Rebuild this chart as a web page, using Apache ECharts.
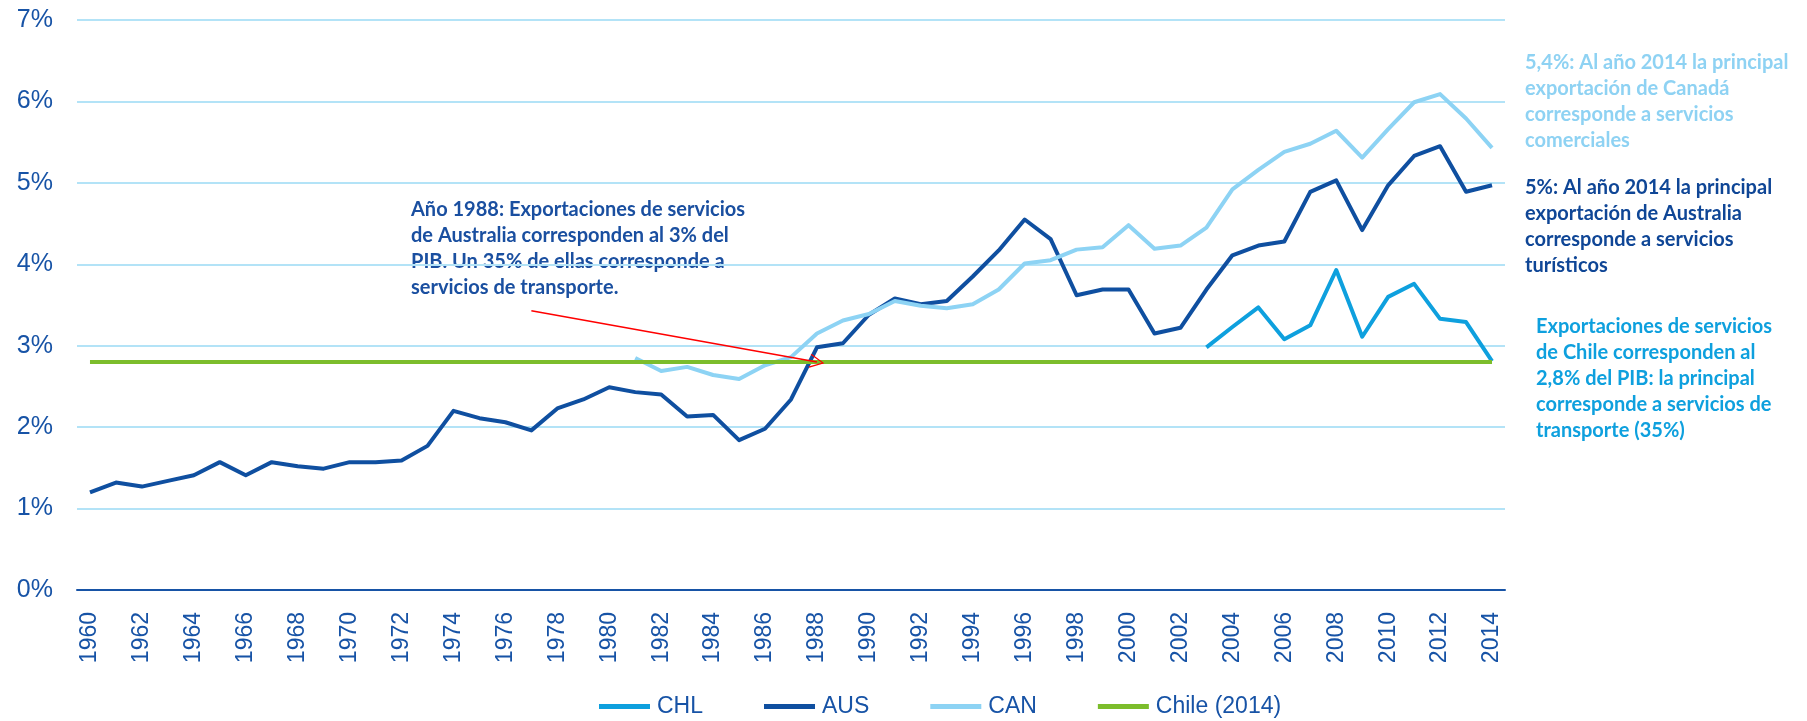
<!DOCTYPE html>
<html>
<head>
<meta charset="utf-8">
<title>Exportaciones de servicios (% del PIB)</title>
<script src="https://cdn.jsdelivr.net/npm/echarts@6/dist/echarts.min.js"></script>
<style>
  html, body { margin: 0; padding: 0; background: #fff; }
  #chart { width: 1807px; height: 721px; }
</style>
</head>
<body>
<div id="chart"></div>
<script>
// años
const years = []
for (let y = 1960; y <= 2014; y++) years.push(String(y))

// Chile, desde 2003
const chl = [
  null, null, null, null, null, null, null, null, null, null,
  null, null, null, null, null, null, null, null, null, null,
  null, null, null, null, null, null, null, null, null, null,
  null, null, null, null, null, null, null, null, null, null,
  null, null, null, 2.98, 3.23, 3.47, 3.08, 3.25, 3.93, 3.11,
  3.60, 3.76, 3.33, 3.29, 2.81
]
// Australia
const aus = [
  1.20, 1.32, 1.27, 1.34, 1.41, 1.57, 1.41, 1.57, 1.52, 1.49,
  1.57, 1.57, 1.59, 1.77, 2.20, 2.11, 2.06, 1.96, 2.23, 2.34,
  2.49, 2.43, 2.40, 2.13, 2.15, 1.84, 1.98, 2.34, 2.98, 3.03,
  3.38, 3.58, 3.51, 3.55, 3.85, 4.17, 4.55, 4.31, 3.62, 3.69,
  3.69, 3.15, 3.22, 3.69, 4.11, 4.23, 4.28, 4.89, 5.03, 4.42,
  4.97, 5.33, 5.45, 4.89, 4.97
]
// Canadá, desde 1981
const can = [
  null, null, null, null, null, null, null, null, null, null,
  null, null, null, null, null, null, null, null, null, null,
  null, 2.85, 2.69, 2.74, 2.64, 2.59, 2.76, 2.86, 3.15, 3.31,
  3.39, 3.55, 3.49, 3.46, 3.51, 3.69, 4.01, 4.05, 4.18, 4.21,
  4.48, 4.19, 4.23, 4.45, 4.92, 5.16, 5.38, 5.48, 5.64, 5.31,
  5.66, 5.99, 6.09, 5.79, 5.43
]
// referencia Chile 2014
const chile2014 = years.map(() => 2.8)

const blue = '#1753a6'
const chart = echarts.init(document.getElementById('chart'))

// flecha abierta (V)
const arrowHead = 'path://M0,0 L-10,14 L-8.6,15 L0,2.6 L8.6,15 L10,14 Z'

const lineSeries = (name, data, color) => ({
  name,
  type: 'line',
  data,
  symbol: 'none',
  connectNulls: false,
  lineStyle: { color, width: 4, join: 'round' },
  itemStyle: { color },
  animation: false
})

// estilo de las notas
const note = (text, fill, left, top) => ({
  type: 'text', left, top,
  style: { text, fill, fontFamily: 'Lato', fontWeight: 'bold', fontSize: 20, lineHeight: 25.8 }
})

const option = {
  animation: false,
  grid: { left: 77, right: 302, top: 20, bottom: 131 },
  legend: {
    left: 594,
    top: 690,
    icon: 'rect',
    itemWidth: 51,
    itemHeight: 5,
    itemGap: 61,
    textStyle: { color: blue, fontSize: 23, fontFamily: 'Liberation Sans', padding: [0, 0, 0, 2] },
    data: ['CHL', 'AUS', 'CAN', 'Chile (2014)']
  },
  xAxis: {
    type: 'category',
    data: years,
    boundaryGap: true,
    axisLine: { lineStyle: { color: blue, width: 2 } },
    axisTick: { interval: 0, length: 8, lineStyle: { color: blue, width: 2 } },
    axisLabel: {
      interval: 1,
      rotate: 90,
      margin: 22,
      color: blue,
      fontSize: 23,
      fontFamily: 'Liberation Sans'
    },
    splitLine: { show: false }
  },
  yAxis: {
    type: 'value',
    min: 0,
    max: 7,
    interval: 1,
    axisLine: { show: false },
    axisTick: { show: false },
    axisLabel: {
      formatter: '{value}%',
      margin: 24,
      color: blue,
      fontSize: 25,
      fontFamily: 'Liberation Sans'
    },
    splitLine: { lineStyle: { color: '#b3e3f7', width: 2 } }
  },
  series: [
    lineSeries('CHL', chl, '#0ea0de'),
    Object.assign(lineSeries('AUS', aus, '#0f4fa0'), {
      // flecha roja hacia 1988
      markLine: {
        silent: true,
        symbol: ['none', arrowHead],
        symbolSize: [14, 15],
        label: { show: false },
        lineStyle: { color: '#ff0000', width: 1.6, type: 'solid' },
        data: [[{ coord: ['1977', 3.43] }, { coord: ['1988', 2.8] }]]
      }
    }),
    lineSeries('CAN', can, '#8dd3f4'),
    lineSeries('Chile (2014)', chile2014, '#7cbd2c')
  ],
  graphic: [
    note('Año 1988: Exportaciones de servicios\nde Australia corresponden al 3% del\nPIB. Un 35% de ellas corresponde a\nservicios de transporte.', '#1a4fa0', 411, 197),
    note('5,4%: Al año 2014 la principal\nexportación de Canadá\ncorresponde a servicios\ncomerciales', '#8ed2f3', 1525, 50),
    note('5%: Al año 2014 la principal\nexportación de Australia\ncorresponde a servicios\nturísticos', '#0f4696', 1525, 175),
    note('Exportaciones de servicios\nde Chile corresponden al\n2,8% del PIB: la principal\ncorresponde a servicios de\ntransporte (35%)', '#0ea0de', 1536, 314)
  ]
}

chart.setOption(option)
</script>
</body>
</html>
